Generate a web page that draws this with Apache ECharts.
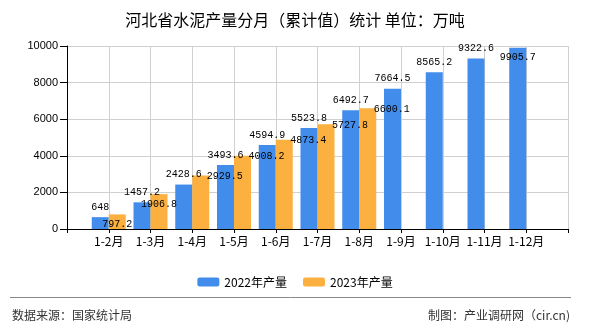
<!DOCTYPE html>
<html><head><meta charset="utf-8">
<script src="https://cdn.jsdelivr.net/npm/echarts@6/dist/echarts.min.js"></script>
<style>html,body{margin:0;padding:0;background:#fff}#c{width:590px;height:330px}</style>
</head><body><div id="c"></div>
<script>
const categories = ['', '1-2月', '1-3月', '1-4月', '1-5月', '1-6月', '1-7月', '1-8月', '1-9月', '1-10月', '1-11月', '1-12月', ''];
const series2022 = [null, 648, 1457.2, 2428.6, 3493.6, 4594.9, 5523.8, 6492.7, 7664.5, 8565.2, 9322.6, 9905.7, null];
const series2023 = [null, 797.2, 1906.8, 2929.5, 4008.2, 4873.4, 5727.8, 6600.1, null, null, null, null, null];
const seriesNames = ['2022年产量', '2023年产量'];
const yTicks = {min: 0, max: 10000, interval: 2000};

const numFont = 'Liberation Mono';
const cjk = 'Noto Sans CJK SC';

function withOffsets(arr, offsetFor) {
  return arr.map((v, i) => {
    if (v == null) return null;
    return {value: v, label: {offset: offsetFor(i)}};
  });
}

const chart = echarts.init(document.getElementById('c'));
chart.setOption({
  animation: false,
  title: {
    text: '河北省水泥产量分月（累计值）统计 单位：万吨',
    left: 'center', top: 7,
    textStyle: {fontFamily: cjk, fontSize: 16, fontWeight: 'normal', color: '#000'}
  },
  legend: {
    data: seriesNames, top: 271, left: 'center',
    itemWidth: 22, itemHeight: 9, itemGap: 16,
    textStyle: {fontFamily: cjk, fontSize: 12, color: '#000'}
  },
  grid: {left: 67, right: 22, top: 46, bottom: 101},
  xAxis: {
    type: 'category', data: categories, boundaryGap: false,
    axisLine: {lineStyle: {color: '#000'}},
    axisTick: {show: true, length: 4, lineStyle: {color: '#000'}},
    axisLabel: {fontFamily: cjk, fontSize: 12, color: '#000', margin: 6, interval: 0},
    splitLine: {show: true, lineStyle: {color: '#d0d0d0'}}
  },
  yAxis: {
    type: 'value', min: yTicks.min, max: yTicks.max, interval: yTicks.interval,
    axisLine: {show: true, lineStyle: {color: '#000'}},
    axisTick: {show: true, length: 7, lineStyle: {color: '#000'}},
    axisLabel: {fontFamily: 'Liberation Sans', fontSize: 11, color: '#000', margin: 9,
      formatter: v => String(v)},
    splitLine: {show: true, lineStyle: {color: '#d0d0d0'}}
  },
  series: [
    {
      name: seriesNames[0], type: 'bar', barWidth: 17, barGap: '0%',
      itemStyle: {color: '#428cec'},
      label: {show: true, position: 'top', fontFamily: numFont, fontSize: 10, color: '#000', distance: 5},
      data: withOffsets(series2022, i => (i === 11 ? [0, 20] : [0, 0]))
    },
    {
      name: seriesNames[1], type: 'bar', barWidth: 17, barGap: '0%',
      itemStyle: {color: '#fbb03f'},
      label: {show: true, position: 'top', fontFamily: numFont, fontSize: 10, color: '#000', distance: 5},
      data: withOffsets(series2023, i => (i <= 2 ? [0, 20] : [24, 11]))
    }
  ],
  graphic: [
    {type: 'line', shape: {x1: 10, y1: 297.5, x2: 571, y2: 297.5}, style: {stroke: '#888', lineWidth: 1}},
    {type: 'text', left: 12, top: 309, style: {text: '数据来源：国家统计局', fontFamily: cjk, fontSize: 12, fill: '#333'}},
    {type: 'text', right: 20, top: 309, style: {text: '制图：产业调研网（cir.cn)', fontFamily: cjk, fontSize: 12, fill: '#333'}}
  ]
});
</script></body></html>
